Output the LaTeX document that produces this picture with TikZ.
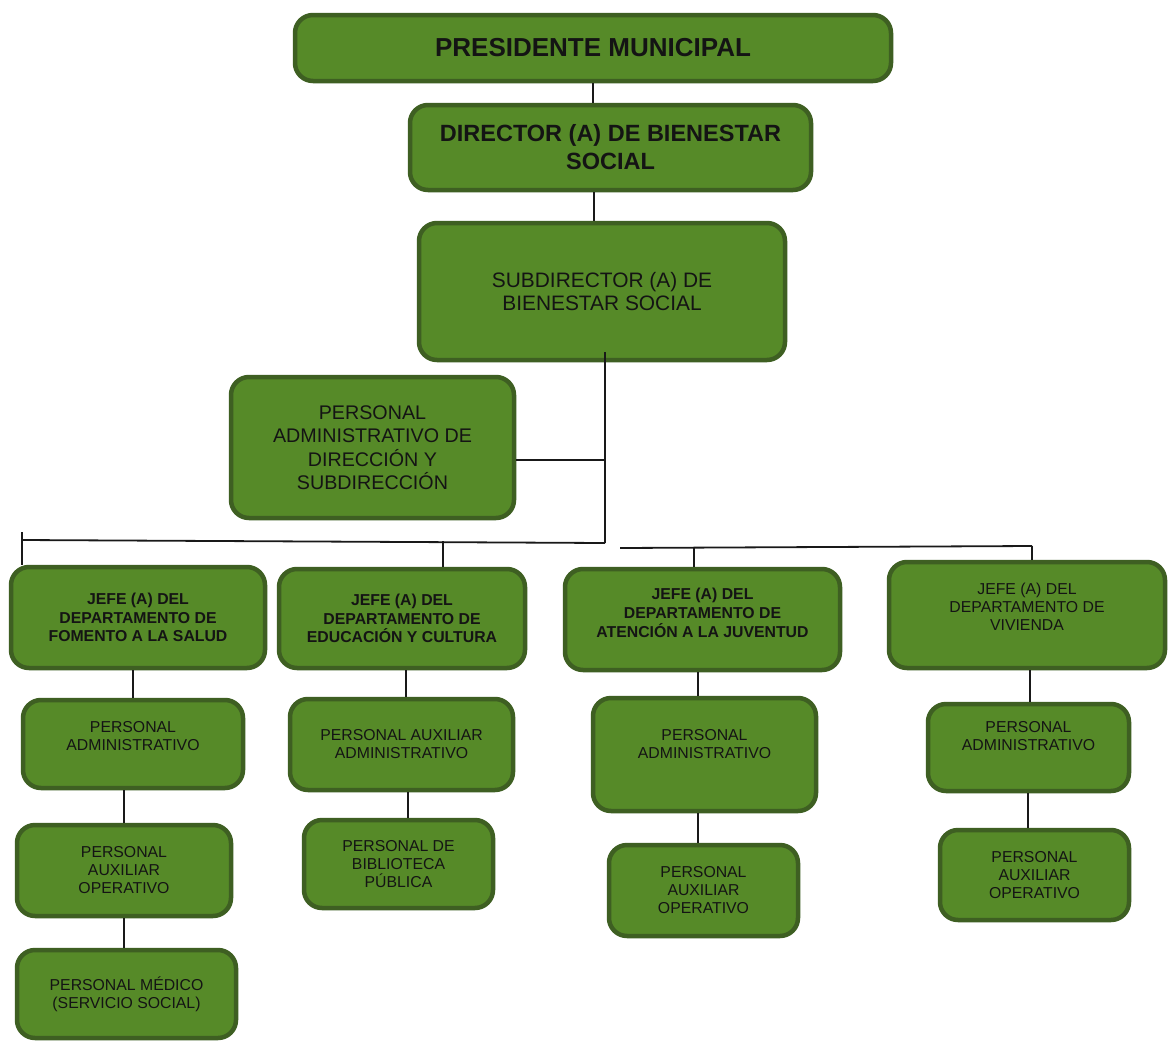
\documentclass[tikz,border=0pt]{standalone}
\usepackage{fontspec}
\setmainfont{Liberation Sans}
\definecolor{boxfill}{RGB}{86,138,40}
\definecolor{boxedge}{RGB}{62,95,34}
\definecolor{txtc}{RGB}{20,20,20}
\begin{document}
\begin{tikzpicture}[x=1pt,y=-1pt,
  box/.style={draw=boxedge, fill=boxfill, line width=4.5pt, rounded corners=18pt, inner sep=0pt, align=center, text=txtc},
  lbl/.style={inner sep=0pt, align=center, text=txtc},
  fs/.style={font=\fontsize{15.8}{18}\selectfont},
  fsb/.style={font=\fontsize{15.8}{18.8}\selectfont\bfseries},
  conn/.style={line width=1.8pt, draw=black!90}
]
\fill[white] (0,0) rectangle (1171,1042);
\useasboundingbox (0,0) rectangle (1171,1042);

% top levels
\node[box, minimum width=596, minimum height=66, font=\fontsize{26}{30}\selectfont\bfseries] (pres) at (593,48) {PRESIDENTE MUNICIPAL};
\node[box, minimum width=401, minimum height=85, font=\fontsize{23.5}{28}\selectfont\bfseries] (dir) at (610.5,147.5) {DIRECTOR (A) DE BIENESTAR\\SOCIAL};
\node[box, minimum width=366, minimum height=137, font=\fontsize{20.9}{22.5}\selectfont] (sub) at (602,291.5) {SUBDIRECTOR (A) DE\\BIENESTAR SOCIAL};
\node[box, minimum width=283, minimum height=141, font=\fontsize{19.7}{23.5}\selectfont] (pad) at (372.5,447.5) {PERSONAL\\ADMINISTRATIVO DE\\DIRECCIÓN Y\\SUBDIRECCIÓN};

% department heads
\node[box, fsb, minimum width=254, minimum height=101] (j1) at (138,617.5) {JEFE (A) DEL\\DEPARTAMENTO DE\\FOMENTO A LA SALUD};
\node[box, fsb, minimum width=246, minimum height=99] (j2) at (402,618.5) {JEFE (A) DEL\\DEPARTAMENTO DE\\EDUCACIÓN Y CULTURA};
\node[box, minimum width=275, minimum height=101] (j3) at (702.5,619.5) {};
\node[lbl, fsb] (j3t) at ([yshift=6.5]j3.center) {JEFE (A) DEL\\DEPARTAMENTO DE\\ATENCIÓN A LA JUVENTUD};
\node[box, minimum width=276, minimum height=106] (j4) at (1027,615) {};
\node[lbl, fs] (j4t) at ([yshift=8]j4.center) {JEFE (A) DEL\\DEPARTAMENTO DE\\VIVIENDA};

% second row
\node[box, minimum width=220, minimum height=88] (pa1) at (133,744) {};
\node[lbl, fs] (pa1t) at ([yshift=8]pa1.center) {PERSONAL\\ADMINISTRATIVO};
\node[box, fs, minimum width=223, minimum height=91] (paa2) at (401.5,744.5) {PERSONAL AUXILIAR\\ADMINISTRATIVO};
\node[box, minimum width=223, minimum height=113] (pa3) at (704.5,754.5) {};
\node[lbl, fs] (pa3t) at ([yshift=10.5]pa3.center) {PERSONAL\\ADMINISTRATIVO};
\node[box, minimum width=201, minimum height=87] (pa4) at (1028.5,747.5) {};
\node[lbl, fs] (pa4t) at ([yshift=11]pa4.center) {PERSONAL\\ADMINISTRATIVO};

% third row
\node[box, fs, minimum width=214, minimum height=91] (pao1) at (124,870.5) {PERSONAL\\AUXILIAR\\OPERATIVO};
\node[box, fs, minimum width=189, minimum height=88] (pb2) at (398.5,864) {PERSONAL DE\\BIBLIOTECA\\PÚBLICA};
\node[box, fs, minimum width=189, minimum height=91] (pao3) at (703.5,890.5) {PERSONAL\\AUXILIAR\\OPERATIVO};
\node[box, fs, minimum width=189, minimum height=90] (pao4) at (1034.5,875) {PERSONAL\\AUXILIAR\\OPERATIVO};

% fourth row
\node[box, fs, minimum width=219, minimum height=88] (pm1) at (126.5,994) {PERSONAL MÉDICO\\(SERVICIO SOCIAL)};

% junction coordinates
\coordinate (tk) at (605,460);
\coordinate (tb) at (605,543);
\coordinate (bl) at (22,540);
\coordinate (blt) at (22,532);
\coordinate (b2) at (443,541);
\coordinate (br0) at (620,548);
\coordinate (b3) at (694,548);
\coordinate (br1) at (1032,546);

% connectors
\draw[conn] (pres.south) -- (pres.south |- dir.north);
\draw[conn] ([xshift=-16.5]dir.south) -- ([xshift=-8]sub.north);
\draw[conn] ([xshift=3,yshift=10]sub.south) -- (tb);
\draw[conn] ([yshift=-12.5]pad.east) -- (tk);
\draw[conn] (tb) -- (bl);
\draw[conn] (blt) -- (blt |- j1.north);
\draw[conn] (b2) -- (b2 |- j2.north);
\draw[conn] (br0) -- (br1);
\draw[conn] (b3) -- (b3 |- j3.north);
\draw[conn] (br1) -- (br1 |- j4.north);

\draw[conn] (j1.south -| pa1.north) -- (pa1.north);
\draw[conn] (pa1.south -| pao1.north) -- (pao1.north);
\draw[conn] (pao1.south) -- (pao1.south |- pm1.north);
\draw[conn] ([xshift=4]j2.south) -- ([xshift=4.5]paa2.north);
\draw[conn] ([xshift=6.5]paa2.south) -- ([xshift=9.5]pb2.north);
\draw[conn] ([xshift=-4.5]j3.south) -- ([xshift=-6.5]pa3.north);
\draw[conn] ([xshift=-6.5]pa3.south) -- ([xshift=-5.5]pao3.north);
\draw[conn] ([xshift=3]j4.south) -- ([xshift=1.5]pa4.north);
\draw[conn] ([xshift=-0.5]pa4.south) -- ([xshift=-6.5]pao4.north);
\end{tikzpicture}
\end{document}
